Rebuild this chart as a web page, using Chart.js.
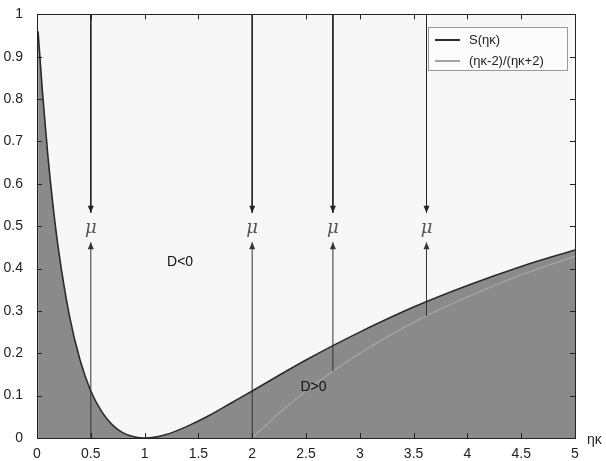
<!DOCTYPE html>
<html>
<head>
<meta charset="utf-8">
<script src="https://cdn.jsdelivr.net/npm/chart.js@4.4.1/dist/chart.umd.min.js"></script>
<style>
  html, body { margin: 0; padding: 0; background: #fff; }
  #wrap { width: 606px; height: 461px; }
</style>
</head>
<body>
<div id="wrap"><canvas id="myChart"></canvas></div>
<script>
// S(ηκ) curve
const sX = [0.01, 0.05, 0.1, 0.15, 0.2, 0.3, 0.4, 0.5, 0.6, 0.7, 0.8, 0.9, 1, 1.1, 1.2, 1.4, 1.6, 1.8, 2, 2.25, 2.5, 2.75, 3, 3.5, 4, 4.5, 5];
const sY = [0.96, 0.819, 0.669, 0.546, 0.444, 0.29, 0.184, 0.111, 0.063, 0.031, 0.012, 0.003, 0, 0.002, 0.008, 0.028, 0.053, 0.082, 0.111, 0.148, 0.184, 0.218, 0.25, 0.309, 0.36, 0.405, 0.444];

// (ηκ-2)/(ηκ+2) curve
const rX = [2, 2.25, 2.5, 2.75, 3, 3.5, 4, 4.5, 5];
const rY = [0, 0.059, 0.111, 0.158, 0.2, 0.273, 0.333, 0.385, 0.429];

// vertical arrows
const arrowX = [0.5, 2, 2.75, 3.62];
const downFrom = [1, 1, 1, 1];
const downTo = [0.532, 0.532, 0.532, 0.532];
const upFrom = [0, 0, 0.158, 0.288];
const upTo = [0.462, 0.462, 0.462, 0.462];
const muY = 0.495;

// region labels
const regionText = ["D<0", "D>0"];
const regionX = [1.33, 2.57];
const regionY = [0.415, 0.12];

const xTicks = [0, 0.5, 1, 1.5, 2, 2.5, 3, 3.5, 4, 4.5, 5];
const yTicks = [0, 0.1, 0.2, 0.3, 0.4, 0.5, 0.6, 0.7, 0.8, 0.9, 1];

const toPts = function (xs, ys) {
	return xs.map(function (x, i) {
		return { x: x, y: ys[i] };
	});
};

const tickText = function (v) {
	return String(+v.toFixed(1));
};

const datasets = [
	{
		label: "S(ηκ)",
		data: toPts(sX, sY),
		borderColor: "#2b2b2b",
		borderWidth: 1.6,
		backgroundColor: "#8a8a8a",
		fill: "origin",
		cubicInterpolationMode: "monotone",
		pointRadius: 0,
		order: 3,
		legend: true,
	},
	{
		label: "(ηκ-2)/(ηκ+2)",
		data: toPts(rX, rY),
		borderColor: "#a3a3a3",
		borderWidth: 1.4,
		fill: false,
		cubicInterpolationMode: "monotone",
		pointRadius: 0,
		order: 2,
		legend: true,
	},
];

arrowX.forEach(function (x, i) {
	datasets.push({
		data: [{ x: x, y: downFrom[i] }, { x: x, y: downTo[i] }],
		borderColor: "#222",
		borderWidth: 1,
		pointRadius: 0,
		fill: false,
		order: 1,
		arrow: true,
	});
	datasets.push({
		data: [{ x: x, y: upFrom[i] }, { x: x, y: upTo[i] }],
		borderColor: "#333",
		borderWidth: 1,
		pointRadius: 0,
		fill: false,
		order: 1,
		arrow: true,
	});
});

const figurePlugin = {
	id: "figure",
	beforeDraw: function (chart) {
		const ctx = chart.ctx;
		const a = chart.chartArea;
		ctx.save();
		ctx.fillStyle = "#f7f7f7";
		ctx.fillRect(a.left, a.top, a.right - a.left, a.bottom - a.top);
		ctx.restore();
	},
	afterDatasetsDraw: function (chart) {
		const ctx = chart.ctx;
		const a = chart.chartArea;
		const xs = chart.scales.x;
		const ys = chart.scales.y;
		ctx.save();

		// arrow heads
		chart.data.datasets.forEach(function (ds, i) {
			if (!ds.arrow) return;
			const pts = chart.getDatasetMeta(i).data;
			const p0 = pts[0];
			const p1 = pts[pts.length - 1];
			const dir = p1.y < p0.y ? -1 : 1;
			ctx.fillStyle = ds.borderColor;
			ctx.beginPath();
			ctx.moveTo(p1.x, p1.y);
			ctx.lineTo(p1.x - 3, p1.y - dir * 7);
			ctx.lineTo(p1.x + 3, p1.y - dir * 7);
			ctx.closePath();
			ctx.fill();
		});

		// mu labels
		ctx.fillStyle = "#555";
		ctx.font = "italic 18px 'DejaVu Serif'";
		ctx.textAlign = "center";
		ctx.textBaseline = "middle";
		arrowX.forEach(function (x) {
			ctx.fillText("μ", xs.getPixelForValue(x), ys.getPixelForValue(muY));
		});

		// region labels
		ctx.fillStyle = "#111";
		ctx.font = "14px 'Liberation Sans'";
		regionText.forEach(function (t, i) {
			ctx.fillText(t, xs.getPixelForValue(regionX[i]), ys.getPixelForValue(regionY[i]));
		});

		// frame and inward ticks
		ctx.strokeStyle = "#222";
		ctx.lineWidth = 1;
		ctx.beginPath();
		xTicks.forEach(function (v) {
			const px = Math.round(xs.getPixelForValue(v)) + 0.5;
			ctx.moveTo(px, a.bottom);
			ctx.lineTo(px, a.bottom - 5);
			ctx.moveTo(px, a.top);
			ctx.lineTo(px, a.top + 5);
		});
		yTicks.forEach(function (v) {
			const py = Math.round(ys.getPixelForValue(v)) + 0.5;
			ctx.moveTo(a.left, py);
			ctx.lineTo(a.left + 5, py);
			ctx.moveTo(a.right, py);
			ctx.lineTo(a.right - 5, py);
		});
		ctx.stroke();
		ctx.strokeRect(Math.round(a.left) + 0.5, Math.round(a.top) + 0.5, Math.round(a.right - a.left), Math.round(a.bottom - a.top));

		// axis label
		ctx.fillStyle = "#222";
		ctx.font = "14px 'Liberation Sans'";
		ctx.textAlign = "left";
		ctx.fillText("ηκ", a.right + 12, a.bottom + 2);

		// legend
		const lx = 428, ly = 27, lw = 139, lh = 43;
		ctx.fillStyle = "#fbfbfb";
		ctx.fillRect(lx, ly, lw, lh);
		ctx.strokeStyle = "#999";
		ctx.strokeRect(lx + 0.5, ly + 0.5, lw, lh);
		ctx.font = "13px 'Liberation Sans'";
		let row = 0;
		chart.data.datasets.forEach(function (ds) {
			if (!ds.legend) return;
			const yy = ly + 13 + row * 21;
			ctx.strokeStyle = ds.borderColor;
			ctx.lineWidth = 2;
			ctx.beginPath();
			ctx.moveTo(lx + 7, yy);
			ctx.lineTo(lx + 32, yy);
			ctx.stroke();
			ctx.fillStyle = "#222";
			ctx.fillText(ds.label, lx + 41, yy);
			row++;
		});
		ctx.restore();
	},
};

new Chart(document.getElementById("myChart"), {
	type: "line",
	data: { datasets: datasets },
	options: {
		responsive: true,
		maintainAspectRatio: false,
		animation: false,
		layout: { padding: { top: 14, right: 31, left: 0, bottom: 0 } },
		plugins: { legend: { display: false }, tooltip: { enabled: false } },
		scales: {
			x: {
				type: "linear",
				min: 0,
				max: 5,
				ticks: { stepSize: 0.5, padding: 0, color: "#222", font: { family: "Liberation Sans", size: 14 }, callback: tickText },
				grid: { display: false },
				border: { display: false },
				afterFit: function (s) { s.height = 23; },
			},
			y: {
				min: 0,
				max: 1,
				ticks: { stepSize: 0.1, padding: 6, color: "#222", font: { family: "Liberation Sans", size: 14 }, callback: tickText },
				grid: { display: false },
				border: { display: false },
				afterFit: function (s) { s.width = 37; },
			},
		},
	},
	plugins: [figurePlugin],
});
</script>
</body>
</html>
